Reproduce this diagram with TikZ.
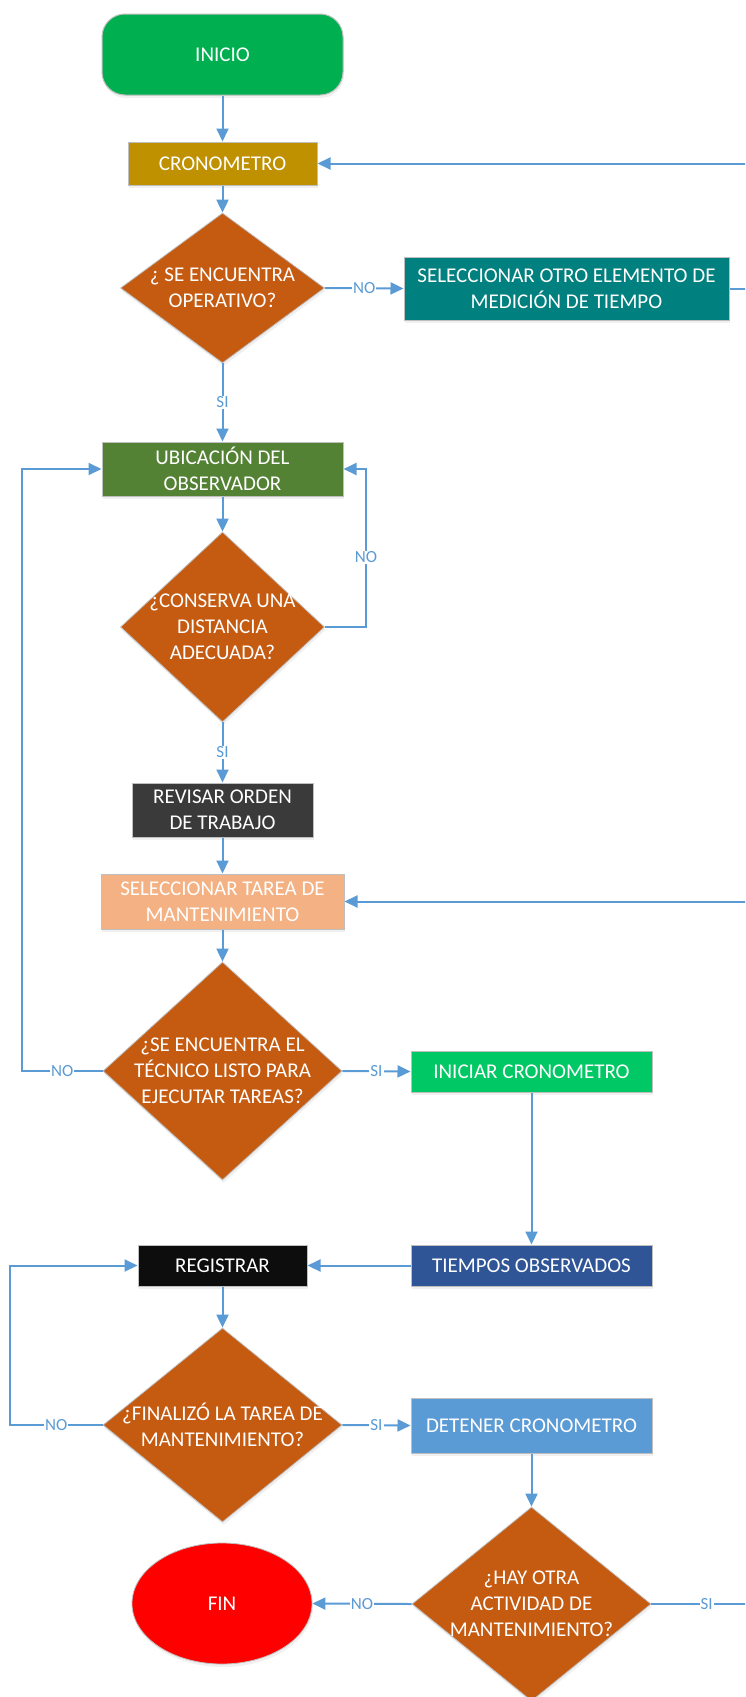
\documentclass[tikz,border=0pt]{standalone}
\usepackage{fontspec}
\setmainfont{Carlito}
\usetikzlibrary{shapes.geometric,arrows.meta,shadows}
\definecolor{lnblue}{HTML}{5B9BD5}
\definecolor{bordergray}{HTML}{BFBFBF}
\definecolor{cInicio}{HTML}{00B050}
\definecolor{cCrono}{HTML}{BF9000}
\definecolor{cDia}{HTML}{C55A11}
\definecolor{cSelA}{HTML}{00807E}
\definecolor{cUbic}{HTML}{548235}
\definecolor{cRev}{HTML}{3A3A3A}
\definecolor{cSelB}{HTML}{F4B183}
\definecolor{cInic}{HTML}{00C864}
\definecolor{cTiem}{HTML}{2F5597}
\definecolor{cReg}{HTML}{0D0D0D}
\definecolor{cDet}{HTML}{5B9BD5}
\definecolor{cFin}{HTML}{FF0000}
\begin{document}
\begin{tikzpicture}[x=1pt,y=-1pt,
  shad/.style={drop shadow={opacity=0.12,shadow xshift=1pt,shadow yshift=-3pt}},
  box/.style={rectangle, draw=bordergray, line width=1pt, inner sep=0pt, align=center,
    text=white, font=\fontsize{21}{26}\selectfont, shad},
  dia/.style={diamond, fill=cDia, draw=bordergray, line width=0.8pt, inner sep=0pt, shad},
  txt/.style={text=white, align=center, inner sep=0pt, font=\fontsize{21}{26}\selectfont},
  conn/.style={draw=lnblue, line width=2pt, -{Triangle[length=13pt,width=12pt]}},
  lbl/.style={fill=white, text=lnblue, inner sep=1pt, font=\fontsize{17}{20}\selectfont}
]
\useasboundingbox (0,0) rectangle (745,1697);
\clip (0,0) rectangle (745,1697);

% helper coordinates for rails
\coordinate (rr) at (750,0);
\coordinate (nc) at (366,0);
\coordinate (lr) at (22,0);
\coordinate (lrb) at (10,0);

% nodes
\node[box, fill=cInicio, rounded corners=23pt, minimum width=241pt, minimum height=81pt] (inicio) at (222.5,54.5) {INICIO};
\node[box, fill=cCrono, minimum width=189pt, minimum height=43pt] (crono) at (222.5,163.5) {CRONOMETRO};
\node[dia, minimum width=204pt, minimum height=150pt] (d1) at (222.5,288) {};
\node[txt] at (d1.center) {¿ SE ENCUENTRA\\OPERATIVO?};
\node[box, fill=cSelA, minimum width=325pt, minimum height=63pt] (sela) at (566.5,288.5) {SELECCIONAR OTRO ELEMENTO DE\\MEDICIÓN DE TIEMPO};
\node[box, fill=cUbic, minimum width=241pt, minimum height=54pt] (ubic) at (222.5,469) {UBICACIÓN DEL\\OBSERVADOR};
\node[dia, minimum width=204pt, minimum height=190pt] (d2) at (222.5,627) {};
\node[txt] at (d2.center) {¿CONSERVA UNA\\DISTANCIA\\ADECUADA?};
\node[box, fill=cRev, minimum width=181pt, minimum height=54pt] (rev) at (222.5,810) {REVISAR ORDEN\\DE TRABAJO};
\node[box, fill=cSelB, minimum width=243pt, minimum height=55pt] (selb) at (222.5,901.5) {SELECCIONAR TAREA DE\\MANTENIMIENTO};
\node[dia, minimum width=239pt, minimum height=218pt] (d3) at (222.5,1071) {};
\node[txt] at (d3.center) {¿SE ENCUENTRA EL\\TÉCNICO LISTO PARA\\EJECUTAR TAREAS?};
\node[box, fill=cInic, minimum width=241pt, minimum height=41pt] (inic) at (531.5,1071.5) {INICIAR CRONOMETRO};
\node[box, fill=cTiem, minimum width=241pt, minimum height=41pt] (tiem) at (531.5,1265.5) {TIEMPOS OBSERVADOS};
\node[box, fill=cReg, minimum width=169pt, minimum height=41pt] (reg) at (222.5,1265.5) {REGISTRAR};
\node[dia, minimum width=239pt, minimum height=194pt] (d4) at (222.5,1425) {};
\node[txt] at (d4.center) {¿FINALIZÓ LA TAREA DE\\MANTENIMIENTO?};
\node[box, fill=cDet, minimum width=241pt, minimum height=55pt] (det) at (531.5,1425.5) {DETENER CRONOMETRO};
\node[dia, minimum width=239pt, minimum height=194pt] (d5) at (531.5,1604) {};
\node[txt] at (d5.center) {¿HAY OTRA\\ACTIVIDAD DE\\MANTENIMIENTO?};
\node[ellipse, fill=cFin, draw=bordergray, line width=0.8pt, inner sep=0pt, shad,
  text=white, font=\fontsize{21}{26}\selectfont, minimum width=180pt, minimum height=121pt] (fin) at (222,1603.5) {FIN};

% connectors
\draw[conn] (inicio.south) -- (crono.north);
\draw[conn] (crono.south) -- (d1.north);
\draw[conn] (d1.east) -- node[lbl]{NO} (sela.west);
\draw[conn] (sela.east) -- (sela.east -| rr) -- (crono.east -| rr) -- (crono.east);
\draw[conn] (d1.south) -- node[lbl]{SI} (ubic.north);
\draw[conn] (ubic.south) -- (d2.north);
\draw[conn] (d2.east) -- (d2.east -| nc) -- node[lbl,pos=0.44]{NO} (ubic.east -| nc) -- (ubic.east);
\draw[conn] (d2.south) -- node[lbl]{SI} (rev.north);
\draw[conn] (rev.south) -- (selb.north);
\draw[conn] (selb.south) -- (d3.north);
\draw[conn] (d3.west) -- node[lbl]{NO} (d3.west -| lr) -- (ubic.west -| lr) -- (ubic.west);
\draw[conn] (d3.east) -- node[lbl]{SI} (inic.west);
\draw[conn] (inic.south) -- (tiem.north);
\draw[conn] (tiem.west) -- (reg.east);
\draw[conn] (reg.south) -- (d4.north);
\draw[conn] (d4.west) -- node[lbl]{NO} (d4.west -| lrb) -- (reg.west -| lrb) -- (reg.west);
\draw[conn] (d4.east) -- node[lbl]{SI} (det.west);
\draw[conn] (det.south) -- (d5.north);
\draw[conn] (d5.west) -- node[lbl]{NO} (fin.east);
\draw[conn] (d5.east) -- node[lbl,pos=0.56]{SI} (d5.east -| rr) -- (selb.east -| rr) -- (selb.east);
\end{tikzpicture}
\end{document}
